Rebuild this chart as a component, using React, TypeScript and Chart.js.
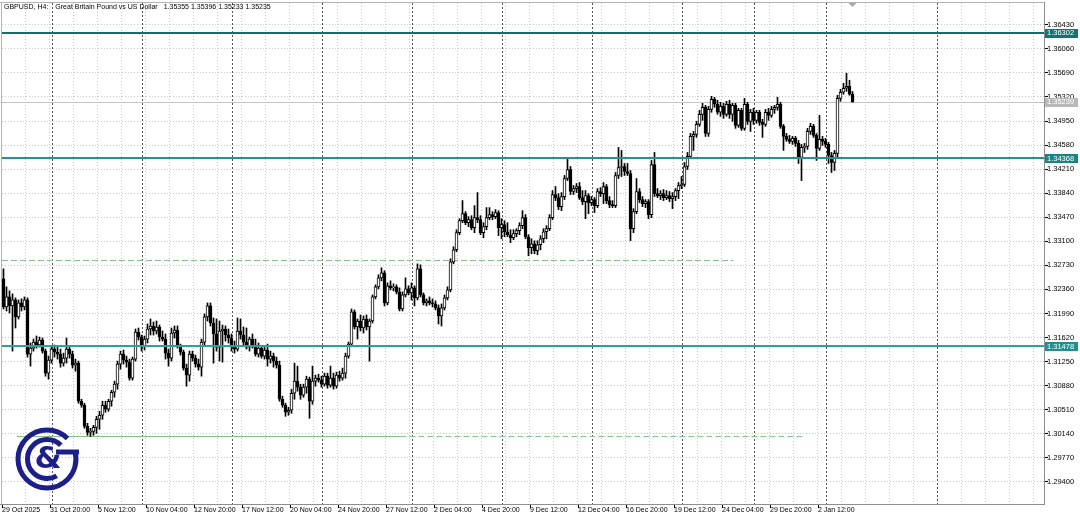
import React, { useEffect, useRef } from 'react';
import { Chart, registerables } from 'chart.js';

Chart.register(...registerables);

const titleSymbol = 'GBPUSD, H4:';
const titleName = 'Great Britain Pound vs US Dollar';
const titleQuote = '1.35355 1.35396 1.35233 1.35235';

const opens = [
  1.32515, 1.32083, 1.32237, 1.32099, 1.32191, 1.31929, 1.32145, 1.32083, 1.32191, 1.31358,
  1.31450, 1.31543, 1.31497, 1.31574, 1.31404, 1.31065, 1.31265, 1.31435, 1.31389, 1.31358,
  1.31219, 1.31296, 1.31435, 1.31358, 1.31188, 1.31219, 1.30633, 1.30571, 1.30247, 1.30154,
  1.30170, 1.30231, 1.30355, 1.30417, 1.30571, 1.30509, 1.30633, 1.30771, 1.30895, 1.31204,
  1.31358, 1.31265, 1.31234, 1.30987, 1.31281, 1.31697, 1.31620, 1.31481, 1.31589, 1.31744,
  1.31790, 1.31713, 1.31775, 1.31620, 1.31589, 1.31373, 1.31296, 1.31682, 1.31728, 1.31481,
  1.31389, 1.31142, 1.31034, 1.31358, 1.31296, 1.31204, 1.31157, 1.31543, 1.31929, 1.32099,
  1.31836, 1.31667, 1.31466, 1.31713, 1.31744, 1.31651, 1.31605, 1.31481, 1.31435, 1.31713,
  1.31651, 1.31543, 1.31466, 1.31589, 1.31497, 1.31358, 1.31450, 1.31327, 1.31420, 1.31281,
  1.31327, 1.31250, 1.31188, 1.30663, 1.30571, 1.30463, 1.30494, 1.30756, 1.30941, 1.30849,
  1.30725, 1.30849, 1.30972, 1.30633, 1.30941, 1.30987, 1.30957, 1.30895, 1.31018, 1.30879,
  1.30987, 1.30864, 1.31034, 1.30987, 1.31065, 1.31327, 1.31512, 1.32006, 1.31775, 1.31867,
  1.31759, 1.31898, 1.31775, 1.31867, 1.32237, 1.32392, 1.32531, 1.32608, 1.32145, 1.32407,
  1.32376, 1.32392, 1.32315, 1.32052, 1.32268, 1.32361, 1.32299, 1.32376, 1.32222, 1.32669,
  1.32268, 1.32145, 1.32176, 1.32145, 1.32129, 1.32068, 1.31944, 1.32068, 1.32222, 1.32345,
  1.32777, 1.32962, 1.33225, 1.33410, 1.33518, 1.33379, 1.33426, 1.33302, 1.33456, 1.33426,
  1.33225, 1.33318, 1.33456, 1.33503, 1.33472, 1.33534, 1.33302, 1.33348, 1.33240, 1.33194,
  1.33148, 1.33210, 1.33256, 1.33333, 1.33456, 1.33163, 1.32993, 1.33055, 1.32947, 1.33040,
  1.33132, 1.33240, 1.33287, 1.33456, 1.33811, 1.33765, 1.33626, 1.33781, 1.34058, 1.34197,
  1.33858, 1.33904, 1.33935, 1.33765, 1.33703, 1.33796, 1.33688, 1.33734, 1.33642, 1.33858,
  1.33827, 1.33935, 1.33719, 1.33657, 1.33642, 1.34105, 1.34228, 1.34243, 1.34166, 1.34135,
  1.33287, 1.33549, 1.33858, 1.33734, 1.33673, 1.33703, 1.33503, 1.34274, 1.33827, 1.33796,
  1.33827, 1.33765, 1.33796, 1.33750, 1.33781, 1.33873, 1.33950, 1.33966, 1.34243, 1.34398,
  1.34706, 1.34737, 1.34891, 1.35046, 1.35153, 1.34752, 1.35122, 1.35277, 1.35200, 1.35077,
  1.35169, 1.35046, 1.35200, 1.35046, 1.35184, 1.34876, 1.35108, 1.34830, 1.35200, 1.34938,
  1.35077, 1.34953, 1.35077, 1.34922, 1.34891, 1.35077, 1.35030, 1.35122, 1.35153, 1.35200,
  1.34860, 1.34706, 1.34660, 1.34629, 1.34675, 1.34598, 1.34382, 1.34537, 1.34552, 1.34783,
  1.34860, 1.34722, 1.34521, 1.34660, 1.34629, 1.34583, 1.34413, 1.34305, 1.34444, 1.35292,
  1.35385, 1.35447, 1.35478, 1.35355,
];

const highs = [
  1.32669, 1.32392, 1.32330, 1.32284, 1.32222, 1.32191, 1.32207, 1.32237, 1.32222, 1.31528,
  1.31589, 1.31636, 1.31620, 1.31605, 1.31435, 1.31327, 1.31481, 1.31497, 1.31466, 1.31435,
  1.31373, 1.31605, 1.31481, 1.31404, 1.31281, 1.31250, 1.30663, 1.30602, 1.30293, 1.30216,
  1.30262, 1.30401, 1.30478, 1.30633, 1.30633, 1.30663, 1.30802, 1.30941, 1.31250, 1.31404,
  1.31420, 1.31327, 1.31281, 1.31312, 1.31744, 1.31759, 1.31651, 1.31636, 1.31821, 1.31898,
  1.31852, 1.31867, 1.31805, 1.31713, 1.31667, 1.31435, 1.31759, 1.31790, 1.31790, 1.31512,
  1.31420, 1.31204, 1.31404, 1.31404, 1.31342, 1.31281, 1.31589, 1.31975, 1.32145, 1.32145,
  1.31913, 1.31898, 1.31867, 1.31805, 1.31790, 1.31744, 1.31667, 1.31558, 1.31913, 1.31898,
  1.31775, 1.31759, 1.31620, 1.31667, 1.31589, 1.31528, 1.31481, 1.31466, 1.31512, 1.31404,
  1.31373, 1.31312, 1.31250, 1.30710, 1.30602, 1.30540, 1.30818, 1.31219, 1.31173, 1.30895,
  1.30895, 1.31018, 1.31003, 1.31173, 1.31034, 1.31049, 1.31018, 1.31065, 1.31065, 1.31173,
  1.31065, 1.31080, 1.31095, 1.31142, 1.31373, 1.31543, 1.32052, 1.32037, 1.31898, 1.31960,
  1.31944, 1.31960, 1.31898, 1.32268, 1.32423, 1.32577, 1.32685, 1.32639, 1.32453, 1.32484,
  1.32438, 1.32423, 1.32376, 1.32315, 1.32531, 1.32407, 1.32453, 1.32407, 1.32746, 1.32731,
  1.32299, 1.32207, 1.32237, 1.32207, 1.32176, 1.32114, 1.32129, 1.32268, 1.32392, 1.32824,
  1.33009, 1.33271, 1.33441, 1.33719, 1.33549, 1.33472, 1.33487, 1.33642, 1.33842, 1.33487,
  1.33379, 1.33611, 1.33611, 1.33549, 1.33580, 1.33564, 1.33441, 1.33410, 1.33379, 1.33271,
  1.33271, 1.33287, 1.33379, 1.33564, 1.33503, 1.33194, 1.33132, 1.33101, 1.33101, 1.33179,
  1.33287, 1.33333, 1.33503, 1.33873, 1.33935, 1.33827, 1.33842, 1.34105, 1.34382, 1.34243,
  1.33950, 1.33981, 1.33997, 1.33873, 1.33873, 1.33827, 1.33781, 1.33765, 1.33904, 1.33919,
  1.33997, 1.33966, 1.33781, 1.33719, 1.34151, 1.34537, 1.34490, 1.34290, 1.34290, 1.34182,
  1.33595, 1.34058, 1.33904, 1.33781, 1.33734, 1.33734, 1.34336, 1.34459, 1.33904, 1.33873,
  1.33889, 1.33873, 1.33858, 1.33842, 1.33904, 1.33997, 1.34089, 1.34305, 1.34459, 1.34752,
  1.34783, 1.34938, 1.35108, 1.35215, 1.35184, 1.35169, 1.35323, 1.35308, 1.35262, 1.35231,
  1.35215, 1.35246, 1.35262, 1.35215, 1.35215, 1.35138, 1.35138, 1.35292, 1.35231, 1.35122,
  1.35138, 1.35108, 1.35108, 1.34969, 1.35122, 1.35138, 1.35169, 1.35184, 1.35308, 1.35231,
  1.34891, 1.34752, 1.34722, 1.34706, 1.34706, 1.34645, 1.34583, 1.34598, 1.34830, 1.34907,
  1.34891, 1.34752, 1.35030, 1.34706, 1.34675, 1.34614, 1.34459, 1.34490, 1.35339, 1.35431,
  1.35524, 1.35679, 1.35570, 1.35396,
];

const lows = [
  1.32052, 1.32021, 1.31991, 1.31404, 1.31759, 1.31898, 1.32021, 1.32037, 1.31312, 1.31173,
  1.31404, 1.31450, 1.31466, 1.31373, 1.31018, 1.30972, 1.31219, 1.31312, 1.31281, 1.31157,
  1.31173, 1.31219, 1.31296, 1.31142, 1.31095, 1.30602, 1.30540, 1.30216, 1.30108, 1.30093,
  1.30108, 1.30139, 1.30201, 1.30355, 1.30463, 1.30478, 1.30556, 1.30694, 1.30818, 1.31126,
  1.31204, 1.31157, 1.30957, 1.30957, 1.31250, 1.31574, 1.31404, 1.31420, 1.31528, 1.31651,
  1.31651, 1.31667, 1.31558, 1.31558, 1.31281, 1.31173, 1.31250, 1.31605, 1.31450, 1.31342,
  1.31111, 1.30864, 1.30941, 1.31250, 1.31157, 1.31111, 1.31018, 1.31497, 1.31867, 1.31790,
  1.31219, 1.31404, 1.31250, 1.31234, 1.31558, 1.31528, 1.31404, 1.31373, 1.31404, 1.31589,
  1.31481, 1.31435, 1.31404, 1.31450, 1.31327, 1.31312, 1.31296, 1.31281, 1.31173, 1.31219,
  1.31157, 1.31142, 1.30633, 1.30540, 1.30401, 1.30417, 1.30447, 1.30663, 1.30787, 1.30663,
  1.30694, 1.30756, 1.30370, 1.30586, 1.30864, 1.30926, 1.30849, 1.30864, 1.30833, 1.30849,
  1.30818, 1.30833, 1.30941, 1.30957, 1.30987, 1.31296, 1.31481, 1.31744, 1.31589, 1.31713,
  1.31682, 1.31728, 1.31250, 1.31836, 1.32207, 1.32361, 1.32484, 1.32099, 1.32114, 1.32345,
  1.32330, 1.32284, 1.32021, 1.32021, 1.32237, 1.32268, 1.32191, 1.32099, 1.32191, 1.32237,
  1.32114, 1.32099, 1.32114, 1.32083, 1.32037, 1.31821, 1.31790, 1.32037, 1.32191, 1.32315,
  1.32746, 1.32932, 1.33194, 1.33379, 1.33348, 1.33318, 1.33271, 1.33225, 1.33379, 1.33194,
  1.33148, 1.33271, 1.33426, 1.33426, 1.33441, 1.33179, 1.33132, 1.33163, 1.33163, 1.33071,
  1.33117, 1.33163, 1.33194, 1.33287, 1.33132, 1.32870, 1.32901, 1.32901, 1.32885, 1.32962,
  1.33071, 1.33132, 1.33256, 1.33426, 1.33719, 1.33580, 1.33564, 1.33734, 1.34027, 1.33811,
  1.33811, 1.33842, 1.33734, 1.33657, 1.33441, 1.33518, 1.33642, 1.33534, 1.33611, 1.33781,
  1.33673, 1.33673, 1.33611, 1.33611, 1.33611, 1.34058, 1.34089, 1.34105, 1.34105, 1.33101,
  1.33225, 1.33518, 1.33688, 1.33626, 1.33611, 1.33441, 1.33456, 1.33781, 1.33765, 1.33734,
  1.33719, 1.33734, 1.33703, 1.33595, 1.33719, 1.33750, 1.33904, 1.33935, 1.34197, 1.34367,
  1.34490, 1.34691, 1.34860, 1.34953, 1.34706, 1.34706, 1.35077, 1.35153, 1.35046, 1.35015,
  1.34984, 1.35015, 1.34984, 1.34938, 1.34830, 1.34845, 1.34799, 1.34799, 1.34891, 1.34783,
  1.34891, 1.34907, 1.34876, 1.34691, 1.34860, 1.34953, 1.34999, 1.35061, 1.35108, 1.34830,
  1.34490, 1.34629, 1.34598, 1.34583, 1.34552, 1.34290, 1.34027, 1.34459, 1.34506, 1.34737,
  1.34691, 1.34336, 1.34490, 1.34567, 1.34537, 1.34290, 1.34151, 1.34182, 1.34382, 1.35246,
  1.35354, 1.35400, 1.35339, 1.35233,
];

const closes = [
  1.32083, 1.32237, 1.32099, 1.32191, 1.31929, 1.32145, 1.32083, 1.32191, 1.31358, 1.31450,
  1.31543, 1.31497, 1.31574, 1.31404, 1.31065, 1.31265, 1.31435, 1.31389, 1.31358, 1.31219,
  1.31296, 1.31435, 1.31358, 1.31188, 1.31219, 1.30633, 1.30571, 1.30247, 1.30154, 1.30170,
  1.30231, 1.30355, 1.30417, 1.30571, 1.30509, 1.30633, 1.30771, 1.30895, 1.31204, 1.31358,
  1.31265, 1.31234, 1.30987, 1.31281, 1.31697, 1.31620, 1.31481, 1.31589, 1.31744, 1.31790,
  1.31713, 1.31775, 1.31620, 1.31589, 1.31373, 1.31296, 1.31682, 1.31728, 1.31481, 1.31389,
  1.31142, 1.31034, 1.31358, 1.31296, 1.31204, 1.31157, 1.31543, 1.31929, 1.32099, 1.31836,
  1.31667, 1.31466, 1.31713, 1.31744, 1.31651, 1.31605, 1.31481, 1.31435, 1.31713, 1.31651,
  1.31543, 1.31466, 1.31589, 1.31497, 1.31358, 1.31450, 1.31327, 1.31420, 1.31281, 1.31327,
  1.31250, 1.31188, 1.30663, 1.30571, 1.30463, 1.30494, 1.30756, 1.30941, 1.30849, 1.30725,
  1.30849, 1.30972, 1.30633, 1.30941, 1.30987, 1.30957, 1.30895, 1.31018, 1.30879, 1.30987,
  1.30864, 1.31034, 1.30987, 1.31065, 1.31327, 1.31512, 1.32006, 1.31775, 1.31867, 1.31759,
  1.31898, 1.31775, 1.31867, 1.32237, 1.32392, 1.32531, 1.32608, 1.32145, 1.32407, 1.32376,
  1.32392, 1.32315, 1.32052, 1.32268, 1.32361, 1.32299, 1.32376, 1.32222, 1.32669, 1.32268,
  1.32145, 1.32176, 1.32145, 1.32129, 1.32068, 1.31944, 1.32068, 1.32222, 1.32345, 1.32777,
  1.32962, 1.33225, 1.33410, 1.33518, 1.33379, 1.33426, 1.33302, 1.33456, 1.33426, 1.33225,
  1.33318, 1.33456, 1.33503, 1.33472, 1.33534, 1.33302, 1.33348, 1.33240, 1.33194, 1.33148,
  1.33210, 1.33256, 1.33333, 1.33456, 1.33163, 1.32993, 1.33055, 1.32947, 1.33040, 1.33132,
  1.33240, 1.33287, 1.33456, 1.33811, 1.33765, 1.33626, 1.33781, 1.34058, 1.34197, 1.33858,
  1.33904, 1.33935, 1.33765, 1.33703, 1.33796, 1.33688, 1.33734, 1.33642, 1.33858, 1.33827,
  1.33935, 1.33719, 1.33657, 1.33642, 1.34105, 1.34228, 1.34243, 1.34166, 1.34135, 1.33287,
  1.33549, 1.33858, 1.33734, 1.33673, 1.33703, 1.33503, 1.34274, 1.33827, 1.33796, 1.33827,
  1.33765, 1.33796, 1.33750, 1.33781, 1.33873, 1.33950, 1.33966, 1.34243, 1.34398, 1.34706,
  1.34737, 1.34891, 1.35046, 1.35153, 1.34752, 1.35122, 1.35277, 1.35200, 1.35077, 1.35169,
  1.35046, 1.35200, 1.35046, 1.35184, 1.34876, 1.35108, 1.34830, 1.35200, 1.34938, 1.35077,
  1.34953, 1.35077, 1.34922, 1.34891, 1.35077, 1.35030, 1.35122, 1.35153, 1.35200, 1.34860,
  1.34706, 1.34660, 1.34629, 1.34675, 1.34598, 1.34382, 1.34537, 1.34552, 1.34783, 1.34860,
  1.34722, 1.34521, 1.34660, 1.34629, 1.34583, 1.34413, 1.34305, 1.34444, 1.35292, 1.35385,
  1.35447, 1.35478, 1.35355, 1.35235,
];

const priceTicks = [
  1.3643, 1.3606, 1.3569, 1.3532, 1.3495, 1.3458, 1.3421, 1.3384, 1.3347, 1.331,
  1.3273, 1.3236, 1.3199, 1.3162, 1.3125, 1.3088, 1.3051, 1.3014, 1.2977, 1.294,
];

const timeLabels = [
  '29 Oct 2025', '31 Oct 20:00', '5 Nov 12:00', '10 Nov 04:00', '12 Nov 20:00', '17 Nov 12:00',
  '20 Nov 04:00', '24 Nov 20:00', '27 Nov 12:00', '2 Dec 04:00', '4 Dec 20:00', '9 Dec 12:00',
  '12 Dec 04:00', '16 Dec 20:00', '19 Dec 12:00', '24 Dec 04:00', '29 Dec 20:00', '2 Jan 12:00',
];
const timeLabelBars = [0, 16, 32, 48, 64, 80, 96, 112, 128, 144, 160, 176, 192, 208, 224, 240, 256, 272];
const weekStartBars = [17, 47, 77, 107, 137, 167, 197, 227, 251, 275, 312];

const levelPrices = [1.36302, 1.34368, 1.31478];
const levelLineColors = ['#11706f', '#1e9494', '#2aa0a0'];
const levelBoxColors = ['#0f7474', '#178585', '#1f8f8f'];
const bidPrice = 1.35239;
const upperDashPrice = 1.32804;
const upperDashBars = [-1, 243.3];
const supportPrice = 1.30093;
const supportSolidBars = [4.5, 132.3];
const supportDashBars = [132.3, 267.3];

const PRICE_FONT = '7.5px "Liberation Sans", Arial, sans-serif';
const TEXT_FONT = '7px "Liberation Sans", Arial, sans-serif';

function seg(ctx: CanvasRenderingContext2D, x1: number, y1: number, x2: number, y2: number) {
  ctx.beginPath();
  ctx.moveTo(x1, y1);
  ctx.lineTo(x2, y2);
  ctx.stroke();
}

function drawLogo(ctx: CanvasRenderingContext2D) {
  const cx = 47;
  const cy = 459;
  ctx.save();
  ctx.strokeStyle = '#1c1f8a';
  ctx.fillStyle = '#1c1f8a';
  ctx.lineWidth = 5;
  ctx.lineCap = 'butt';
  ctx.beginPath();
  ctx.arc(cx, cy, 29, -Math.PI / 4, -0.25, true);
  ctx.stroke();
  ctx.beginPath();
  ctx.arc(cx, cy, 19.5, -Math.PI / 4, Math.PI / 3, true);
  ctx.stroke();
  ctx.fillRect(56, 449.5, 23, 5);
  ctx.font = 'bold 31px "DejaVu Sans", sans-serif';
  ctx.textAlign = 'center';
  ctx.textBaseline = 'middle';
  ctx.fillText('&', cx + 1, cy + 1);
  ctx.restore();
}

const decorPlugin = {
  id: 'mtDecor',
  beforeDraw(chart: any) {
    const { ctx } = chart;
    ctx.save();
    ctx.fillStyle = '#ffffff';
    ctx.fillRect(0, 0, chart.width, chart.height);
    ctx.restore();
  },
  beforeDatasetsDraw(chart: any) {
    const { ctx, chartArea: a, scales } = chart;
    const xs = scales.x;
    const ys = scales.y;
    ctx.save();
    ctx.lineWidth = 1;
    ctx.strokeStyle = '#c8c8c8';
    ctx.setLineDash([1, 2]);
    for (const p of priceTicks) {
      const py = Math.round(ys.getPixelForValue(p)) + 0.5;
      seg(ctx, a.left, py, a.right, py);
    }
    for (let k = 0; k < 60; k++) {
      const px = xs.getPixelForValue(8 * k - 0.83);
      if (px > a.right - 2) break;
      const vx = Math.floor(px) + 0.5;
      seg(ctx, vx, a.top, vx, a.bottom);
    }
    ctx.strokeStyle = '#555555';
    ctx.setLineDash([2, 2]);
    for (const b of weekStartBars) {
      const px = Math.floor(xs.getPixelForValue(b - 0.5)) - 0.5;
      if (px > a.right) continue;
      seg(ctx, px, a.top, px, a.bottom);
    }
    ctx.setLineDash([]);
    ctx.strokeStyle = '#c4c4c4';
    const by = Math.round(ys.getPixelForValue(bidPrice)) + 0.5;
    seg(ctx, a.left, by, a.right, by);
    ctx.strokeStyle = '#8fbf8f';
    ctx.setLineDash([6, 3]);
    const uy = Math.round(ys.getPixelForValue(upperDashPrice)) + 0.5;
    seg(ctx, Math.max(a.left, xs.getPixelForValue(upperDashBars[0])), uy, xs.getPixelForValue(upperDashBars[1]), uy);
    const sy = Math.round(ys.getPixelForValue(supportPrice)) + 0.5;
    seg(ctx, xs.getPixelForValue(supportDashBars[0]), sy, xs.getPixelForValue(supportDashBars[1]), sy);
    ctx.setLineDash([]);
    ctx.strokeStyle = '#86c086';
    seg(ctx, xs.getPixelForValue(supportSolidBars[0]), sy, xs.getPixelForValue(supportSolidBars[1]), sy);
    ctx.restore();
  },
  afterDatasetsDraw(chart: any) {
    const { ctx, chartArea: a, scales } = chart;
    const ys = scales.y;
    ctx.save();
    ctx.setLineDash([]);
    levelPrices.forEach((p, i) => {
      const py = Math.round(ys.getPixelForValue(p));
      ctx.strokeStyle = levelLineColors[i];
      ctx.lineWidth = 2;
      seg(ctx, a.left, py, a.right, py);
    });
    ctx.restore();
  },
  afterDraw(chart: any) {
    const { ctx, chartArea: a, scales } = chart;
    const xs = scales.x;
    const ys = scales.y;
    ctx.save();
    ctx.setLineDash([]);
    ctx.lineWidth = 1;
    ctx.strokeStyle = '#b4b4b4';
    seg(ctx, 0, 2.5, a.right, 2.5);
    seg(ctx, 1.5, 2, 1.5, a.bottom);
    ctx.strokeStyle = '#8e8e8e';
    seg(ctx, a.right + 0.5, 2, a.right + 0.5, a.bottom + 1);
    seg(ctx, 0, a.bottom + 0.5, a.right + 1, a.bottom + 0.5);

    ctx.font = PRICE_FONT;
    ctx.textBaseline = 'middle';
    ctx.textAlign = 'left';
    ctx.fillStyle = '#000000';
    ctx.strokeStyle = '#000000';
    for (const p of priceTicks) {
      const py = ys.getPixelForValue(p);
      const ry = Math.round(py) + 0.5;
      seg(ctx, a.right + 1, ry, a.right + 4, ry);
      ctx.fillText(p.toFixed(5), a.right + 3, py + 0.5);
    }
    const byv = ys.getPixelForValue(bidPrice);
    ctx.fillStyle = '#b9b9b9';
    ctx.fillRect(a.right + 1, Math.round(byv) - 4, 33, 9);
    ctx.fillStyle = '#ffffff';
    ctx.fillText(bidPrice.toFixed(5), a.right + 3, byv + 0.5);
    levelPrices.forEach((p, i) => {
      const py = ys.getPixelForValue(p);
      ctx.fillStyle = levelBoxColors[i];
      ctx.fillRect(a.right + 1, Math.round(py) - 4, 33, 9);
      ctx.fillStyle = '#ffffff';
      ctx.fillText(p.toFixed(5), a.right + 3, py + 0.5);
    });

    ctx.font = TEXT_FONT;
    ctx.fillStyle = '#000000';
    timeLabels.forEach((t, i) => {
      const px = xs.getPixelForValue(timeLabelBars[i]);
      const tx = Math.floor(px) - 0.5;
      seg(ctx, tx, a.bottom + 1, tx, a.bottom + 4);
      ctx.fillText(t, px - 1.5, 510.5);
    });
    let tx = 4;
    ctx.fillText(titleSymbol, tx, 7);
    tx += ctx.measureText(titleSymbol).width + 7;
    ctx.fillText(titleName, tx, 7);
    tx += ctx.measureText(titleName).width + 6;
    ctx.fillText(titleQuote, tx, 7);

    const mx = xs.getPixelForValue(opens.length - 1);
    ctx.fillStyle = '#a8a8a8';
    ctx.beginPath();
    ctx.moveTo(mx - 4, 3);
    ctx.lineTo(mx + 4, 3);
    ctx.lineTo(mx, 7);
    ctx.closePath();
    ctx.fill();
    ctx.restore();
    drawLogo(ctx);
  },
};

export default function App() {
  const ref = useRef<HTMLCanvasElement | null>(null);
  useEffect(() => {
    const canvas = ref.current;
    if (!canvas) return;
    const idx = opens.map((_, i) => i);
    const wickData = idx.map((i) => ({ x: i, y: [lows[i], highs[i]] }));
    const bodyData = idx.map((i) => ({ x: i, y: [opens[i], closes[i]] }));
    const bodyColors = idx.map((i) => (closes[i] >= opens[i] ? '#ffffff' : '#000000'));
    const chart = new Chart(canvas, {
      type: 'bar',
      data: {
        datasets: [
          {
            label: 'wick',
            data: wickData as any,
            backgroundColor: '#000000',
            barThickness: 1,
            grouped: false,
            order: 2,
          } as any,
          {
            label: 'body',
            data: bodyData as any,
            backgroundColor: bodyColors,
            borderColor: '#000000',
            borderWidth: 1,
            borderSkipped: false,
            barThickness: 3,
            minBarLength: 1,
            grouped: false,
            order: 1,
          } as any,
        ],
      },
      options: {
        animation: false,
        responsive: false,
        maintainAspectRatio: false,
        events: [],
        layout: { padding: { left: 2, right: 36, top: 3, bottom: 12 } },
        plugins: { legend: { display: false }, tooltip: { enabled: false } },
        scales: {
          x: { type: 'linear', min: -0.5, max: 346.833, display: false, offset: false },
          y: { type: 'linear', min: 1.29052, max: 1.36758, display: false },
        },
      } as any,
      plugins: [decorPlugin],
    });
    return () => chart.destroy();
  }, []);
  return (
    <div style={{ position: 'fixed', left: 0, top: 0, width: 1080, height: 516, background: '#ffffff' }}>
      <canvas ref={ref} width={1080} height={516} style={{ display: 'block', width: 1080, height: 516 }} />
    </div>
  );
}
